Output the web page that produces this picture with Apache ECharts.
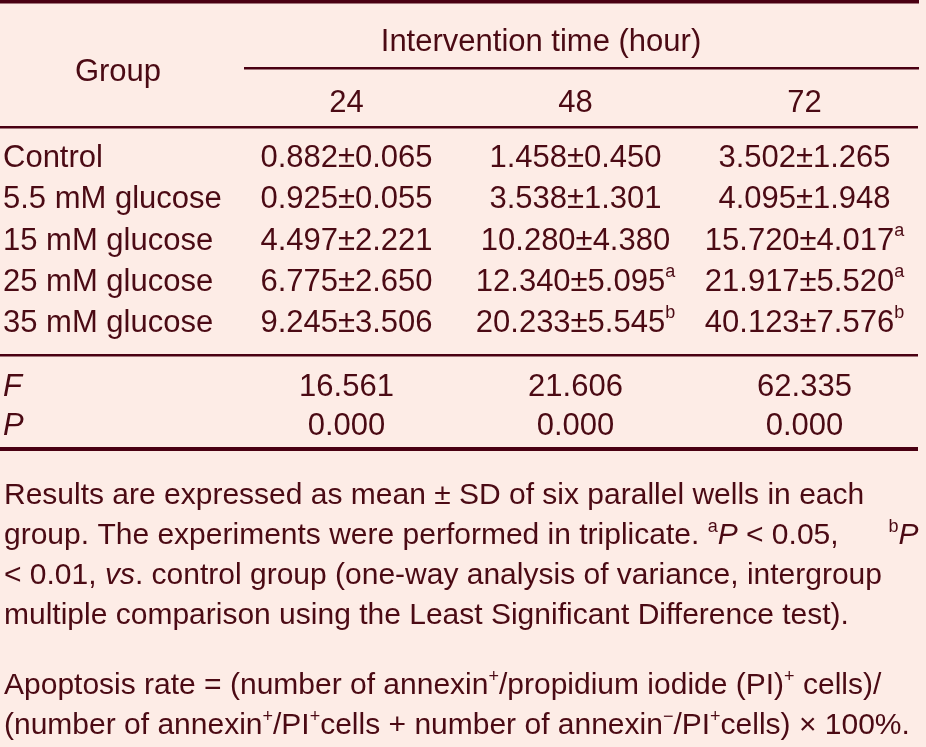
<!DOCTYPE html>
<html>
<head>
<meta charset="utf-8">
<script src="https://cdn.jsdelivr.net/npm/echarts@6/dist/echarts.min.js"></script>
<style>
html,body{margin:0;padding:0;background:#FDECE6;}
#main{width:926px;height:747px;}
</style>
</head>
<body>
<div id="main"></div>
<script>
// ---- data ----
const groups = ['Control', '5.5 mM glucose', '15 mM glucose', '25 mM glucose', '35 mM glucose'];
const times = ['24', '48', '72'];
const mean24 = [0.882, 0.925, 4.497, 6.775, 9.245];
const sd24   = [0.065, 0.055, 2.221, 2.650, 3.506];
const sig24  = ['', '', '', '', ''];
const mean48 = [1.458, 3.538, 10.280, 12.340, 20.233];
const sd48   = [0.450, 1.301, 4.380, 5.095, 5.545];
const sig48  = ['', '', '', 'a', 'b'];
const mean72 = [3.502, 4.095, 15.720, 21.917, 40.123];
const sd72   = [1.265, 1.948, 4.017, 5.520, 7.576];
const sig72  = ['', '', 'a', 'a', 'b'];
const statNames = ['F', 'P'];
const fValues = [16.561, 21.606, 62.335];
const pValues = [0.000, 0.000, 0.000];
const headerTitle = 'Intervention time (hour)';
const groupTitle = 'Group';
const footLines = [
  'Results are expressed as mean ± SD of six parallel wells in each',
  'group. The experiments were performed in triplicate. {s|a}{i|P} < 0.05,      {s|b}{i|P}',
  '< 0.01, {i|vs}. control group (one-way analysis of variance, intergroup',
  'multiple comparison using the Least Significant Difference test).',
  'Apoptosis rate = (number of annexin{s|+}/propidium iodide (PI){s|+} cells)/',
  '(number of annexin{s|+}/PI{s|+}cells + number of annexin{s|\u2212}/PI{s|+}cells) × 100%.'
];

// ---- style ----
const FONT = "'Liberation Sans', Arial, sans-serif";
const INK = '#4B0A14';
const RULE = '#4A0012';
const BG = '#FDECE6';
const FS = 31;

const means = [mean24, mean48, mean72];
const sds = [sd24, sd48, sd72];
const sigs = [sig24, sig48, sig72];

const cellData = [];
times.forEach((t, c) => {
  groups.forEach((g, r) => {
    const txt = '{v|' + means[c][r].toFixed(3) + '±' + sds[c][r].toFixed(3) + '}' +
      (sigs[c][r] ? '{s|' + sigs[c][r] + '}' : '');
    cellData.push([c, r, txt]);
  });
});
const statData = [];
times.forEach((t, c) => {
  statData.push([c, 0, '{v|' + fValues[c].toFixed(3) + '}']);
  statData.push([c, 1, '{v|' + pValues[c].toFixed(3) + '}']);
});

const cellRich = {
  v: {fontSize: FS, fontFamily: FONT, color: INK, lineHeight: 38},
  s: {fontSize: 18, fontFamily: FONT, color: INK, lineHeight: 18, verticalAlign: 'top'}
};

function makeRender(arr) {
  return function (params, api) {
    const d = arr[params.dataIndex];
    const p = api.coord([api.value(0), api.value(1)]);
    return {
      type: 'text',
      x: p[0], y: p[1],
      style: {
        text: d[2], rich: cellRich,
        fontSize: FS, fontFamily: FONT, fill: INK,
        align: 'center', verticalAlign: 'middle'
      }
    };
  };
}

const footRich = {
  i: {fontSize: 30, fontFamily: FONT, fontStyle: 'italic', color: INK, lineHeight: 36},
  s: {fontSize: 18, fontFamily: FONT, color: INK, lineHeight: 18, verticalAlign: 'top'}
};
const footY = [496, 536, 576, 616, 686, 726];

const graphics = [
  {type: 'rect', shape: {x: 0, y: 0, width: 919, height: 3.5}, style: {fill: RULE}},
  {type: 'rect', shape: {x: 244, y: 67, width: 675, height: 2.5}, style: {fill: RULE}},
  {type: 'rect', shape: {x: 0, y: 126, width: 918, height: 2.5}, style: {fill: RULE}},
  {type: 'rect', shape: {x: 0, y: 354, width: 918, height: 2.5}, style: {fill: RULE}},
  {type: 'rect', shape: {x: 0, y: 447, width: 918, height: 4}, style: {fill: RULE}},
  {type: 'text', x: 118, y: 72, style: {text: groupTitle, fontSize: FS, fontFamily: FONT, fill: INK, align: 'center', verticalAlign: 'middle'}},
  {type: 'text', x: 541, y: 42, style: {text: headerTitle, fontSize: FS, fontFamily: FONT, fill: INK, align: 'center', verticalAlign: 'middle'}}
];
footLines.forEach((t, k) => {
  graphics.push({type: 'text', x: 4, y: footY[k], style: {
    text: t, rich: footRich, fontSize: 30, fontFamily: FONT, fill: INK,
    align: 'left', verticalAlign: 'middle', lineHeight: 36
  }});
});

const chart = echarts.init(document.getElementById('main'), null, {renderer: 'canvas'});
chart.setOption({
  backgroundColor: BG,
  animation: false,
  textStyle: {fontFamily: FONT},
  grid: [
    {left: 232, right: 7, top: 138, height: 206},
    {left: 232, right: 7, top: 367.5, height: 78}
  ],
  xAxis: [
    {type: 'category', gridIndex: 0, data: times, position: 'top',
     axisLine: {show: false}, axisTick: {show: false}, splitLine: {show: false},
     axisLabel: {interval: 0, fontSize: FS, fontFamily: FONT, color: INK, margin: 19.5, lineHeight: FS}},
    {type: 'category', gridIndex: 1, data: times, show: false}
  ],
  yAxis: [
    {type: 'category', gridIndex: 0, data: groups, inverse: true,
     axisLine: {show: false}, axisTick: {show: false}, splitLine: {show: false},
     axisLabel: {interval: 0, fontSize: FS, fontFamily: FONT, color: INK, align: 'left', margin: 229}},
    {type: 'category', gridIndex: 1, data: statNames, inverse: true,
     axisLine: {show: false}, axisTick: {show: false}, splitLine: {show: false},
     axisLabel: {interval: 0, fontSize: FS, fontFamily: FONT, fontStyle: 'italic', color: INK, align: 'left', margin: 229}}
  ],
  series: [
    {type: 'custom', xAxisIndex: 0, yAxisIndex: 0, data: cellData.map(d => [d[0], d[1]]),
     renderItem: makeRender(cellData), silent: true},
    {type: 'custom', xAxisIndex: 1, yAxisIndex: 1, data: statData.map(d => [d[0], d[1]]),
     renderItem: makeRender(statData), silent: true}
  ],
  graphic: graphics
});
</script>
</body>
</html>
